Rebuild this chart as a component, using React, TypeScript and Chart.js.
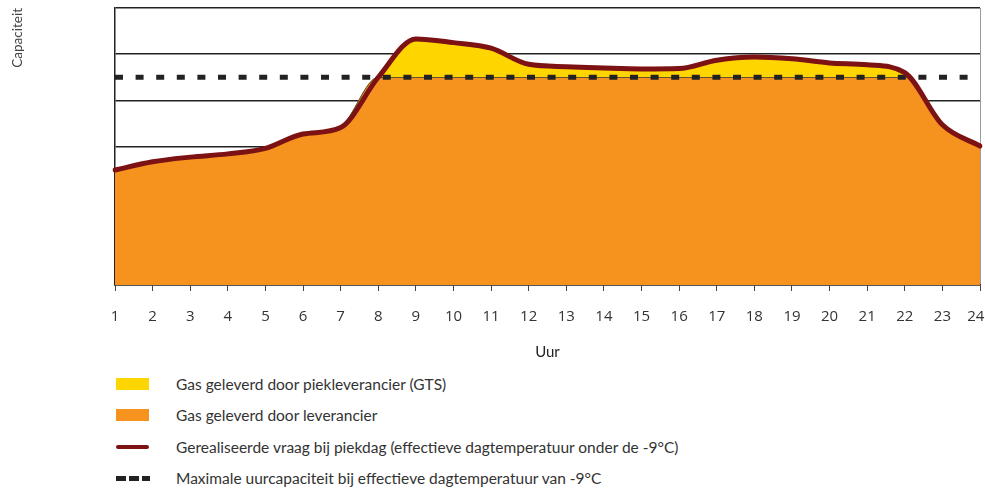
import React, { useEffect, useRef } from 'react';
import { Chart, registerables } from 'chart.js';

Chart.register(...registerables);

const hours = ['1', '2', '3', '4', '5', '6', '7', '8', '9', '10', '11', '12', '13', '14', '15', '16', '17', '18', '19', '20', '21', '22', '23', '24'];

// Gerealiseerde vraag bij piekdag
const demand = [2.49, 2.67, 2.77, 2.84, 2.96, 3.27, 3.41, 4.5, 5.33, 5.25, 5.13, 4.78, 4.73, 4.7, 4.68, 4.69, 4.87, 4.94, 4.9, 4.81, 4.77, 4.6, 3.47, 3.01];

// Gas geleverd door leverancier
const supplier = [2.49, 2.67, 2.77, 2.84, 2.96, 3.28, 3.44, 4.5, 4.5, 4.5, 4.5, 4.5, 4.5, 4.5, 4.5, 4.5, 4.5, 4.5, 4.5, 4.5, 4.5, 4.5, 3.5, 3.03];

// Maximale uurcapaciteit
const capacity = [4.5, 4.5, 4.5, 4.5, 4.5, 4.5, 4.5, 4.5, 4.5, 4.5, 4.5, 4.5, 4.5, 4.5, 4.5, 4.5, 4.5, 4.5, 4.5, 4.5, 4.5, 4.5, 4.5, 4.5];

const legendLabels = [
  'Gas geleverd door piekleverancier (GTS)',
  'Gas geleverd door leverancier',
  'Gerealiseerde vraag bij piekdag (effectieve dagtemperatuur onder de -9°C)',
  'Maximale uurcapaciteit bij effectieve dagtemperatuur van -9°C',
];

const axisTitleX = 'Uur';
const axisTitleY = 'Capaciteit';

const YELLOW = '#FFD500';
const ORANGE = '#F6921E';
const RED = '#7D1214';
const DARK = '#222222';
const TEXT = '#333333';
const FONT = 'Lato, "Open Sans", sans-serif';

function LegendMarker({ kind }: { kind: number }) {
  if (kind === 0 || kind === 1) {
    return <div style={{ width: 33, height: 12, background: kind === 0 ? YELLOW : ORANGE }} />;
  }
  if (kind === 2) {
    return <div style={{ width: 33, height: 4, borderRadius: 2, background: RED }} />;
  }
  return (
    <div style={{ display: 'flex', width: 34, height: 5, justifyContent: 'space-between' }}>
      <div style={{ width: 10, height: 5, background: DARK }} />
      <div style={{ width: 10, height: 5, background: DARK }} />
      <div style={{ width: 8, height: 5, background: DARK }} />
    </div>
  );
}

export default function App() {
  const ref = useRef<HTMLCanvasElement>(null);

  useEffect(() => {
    if (!ref.current) return;
    const chart = new Chart(ref.current, {
      type: 'line',
      data: {
        labels: hours,
        datasets: [
          {
            label: legendLabels[1],
            data: supplier,
            fill: 'origin',
            backgroundColor: ORANGE,
            borderColor: '#2a2a2a',
            borderWidth: 1,
            pointRadius: 0,
            cubicInterpolationMode: 'monotone',
            order: 4,
          },
          {
            label: legendLabels[0],
            data: demand,
            fill: { target: 0, above: YELLOW, below: 'rgba(0,0,0,0)' },
            backgroundColor: YELLOW,
            borderColor: 'rgba(0,0,0,0)',
            borderWidth: 0,
            pointRadius: 0,
            cubicInterpolationMode: 'monotone',
            order: 3,
          },
          {
            label: legendLabels[2],
            data: demand,
            fill: false,
            borderColor: RED,
            borderWidth: 5,
            borderCapStyle: 'round',
            borderJoinStyle: 'round',
            pointRadius: 0,
            cubicInterpolationMode: 'monotone',
            order: 1,
          },
          {
            label: legendLabels[3],
            data: capacity,
            fill: false,
            borderColor: DARK,
            borderWidth: 5,
            borderDash: [8, 12.6],
            pointRadius: 0,
            order: 2,
          },
        ],
      },
      options: {
        responsive: false,
        animation: false,
        devicePixelRatio: 1,
        layout: { autoPadding: false, padding: { top: 8, right: 5, left: 0, bottom: 0 } },
        plugins: { legend: { display: false }, tooltip: { enabled: false } },
        scales: {
          x: {
            offset: false,
            afterFit: (scale: any) => {
              scale.height = 80;
              scale.paddingLeft = 0;
              scale.paddingRight = 0;
            },
            border: { display: true, color: DARK, width: 1.5 },
            grid: {
              drawOnChartArea: true,
              color: (ctx: any) => (ctx.index === hours.length - 1 ? '#9a9a9a' : 'rgba(0,0,0,0)'),
              tickColor: '#444',
              tickLength: 6,
              lineWidth: 1,
            },
            ticks: {
              autoSkip: false,
              maxRotation: 0,
              padding: 17,
              color: TEXT,
              font: { family: '"Open Sans", sans-serif', size: 15 },
              callback: (_v: any, i: number) => (i === hours.length - 1 ? hours[i] + '\u2007' : hours[i]),
            },
            title: {
              display: true,
              text: axisTitleX,
              color: '#222',
              font: { family: FONT, size: 15 },
              padding: { top: 4, bottom: 4 },
            },
          },
          y: {
            min: 0,
            max: 6,
            afterFit: (scale: any) => {
              scale.width = 115;
              scale.paddingTop = 0;
              scale.paddingBottom = 0;
            },
            border: { display: true, color: DARK, width: 1.5 },
            grid: { color: DARK, lineWidth: 1.5, drawTicks: false },
            ticks: { display: false, stepSize: 1 },
            title: {
              display: true,
              text: axisTitleY,
              align: 'end',
              color: '#444',
              font: { family: FONT, size: 13.5 },
              padding: { top: 10, bottom: 0 },
            },
          },
        },
      },
    });
    return () => chart.destroy();
  }, []);

  const rowCenters = [384, 415, 447, 478];

  return (
    <div style={{ position: 'absolute', left: 0, top: 0, width: 985, height: 488, background: '#fff', overflow: 'hidden' }}>
      <canvas ref={ref} width={985} height={365} style={{ position: 'absolute', left: 0, top: 0 }} />
      {legendLabels.map((label, i) => (
        <div
          key={label}
          style={{
            position: 'absolute',
            left: 116,
            top: rowCenters[i] - 12,
            height: 24,
            display: 'flex',
            alignItems: 'center',
            whiteSpace: 'nowrap',
          }}
        >
          <div style={{ width: 60, display: 'flex', alignItems: 'center' }}>
            <LegendMarker kind={i} />
          </div>
          <span style={{ fontFamily: FONT, fontSize: 15.5, color: TEXT }}>{label}</span>
        </div>
      ))}
    </div>
  );
}
